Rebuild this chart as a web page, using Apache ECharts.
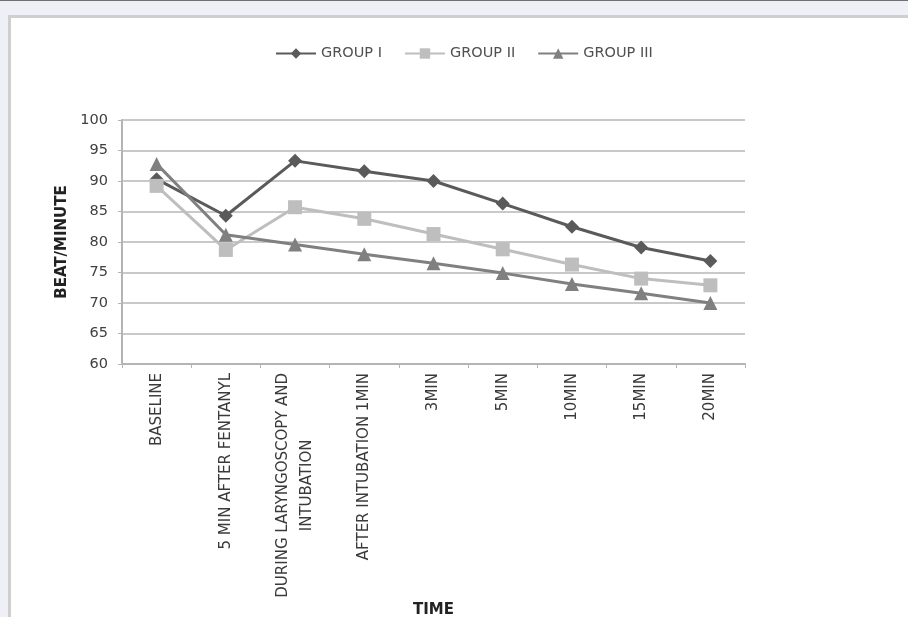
<!DOCTYPE html>
<html>
<head>
<meta charset="utf-8">
<script src="https://cdn.jsdelivr.net/npm/echarts@6/dist/echarts.min.js"></script>
<style>
  html, body { margin: 0; padding: 0; width: 908px; height: 617px; overflow: hidden; background: #eff0f5; }
  #topline { position: absolute; left: 0; top: 0; width: 908px; height: 1px; background: #707070; }
  #panel { position: absolute; left: 8px; top: 15px; width: 960px; height: 700px; background: #fff;
           border-left: 3px solid #cfcfcf; border-top: 3px solid #cfcfcf; box-sizing: border-box; }
  #chart { position: absolute; left: 0; top: 0; width: 908px; height: 617px; }
</style>
</head>
<body>
<div id="topline"></div>
<div id="panel"></div>
<div id="chart"></div>
<script>
// Heart rate (beats per minute) at each time point, per group
const timePoints = [
  'BASELINE',
  '5 MIN AFTER FENTANYL',
  'DURING LARYNGOSCOPY AND\nINTUBATION',
  'AFTER INTUBATION 1MIN',
  '3MIN',
  '5MIN',
  '10MIN',
  '15MIN',
  '20MIN'
];
const groupI   = [90.3, 84.3, 93.3, 91.6, 90.0, 86.3, 82.5, 79.1, 76.9];
const groupII  = [89.2, 78.7, 85.7, 83.8, 81.3, 78.8, 76.3, 74.0, 72.9];
const groupIII = [92.8, 81.2, 79.6, 78.0, 76.5, 74.9, 73.1, 71.6, 70.0];
const yTicks = { min: 60, max: 100, step: 5 };

const FONT = '"DejaVu Sans", sans-serif';

function lineSeries(name, data, color, symbol, size) {
  return {
    name: name,
    type: 'line',
    data: data,
    symbol: symbol,
    symbolSize: size,
    lineStyle: { color: color, width: 3 },
    itemStyle: { color: color },
    emphasis: { disabled: true },
    animation: false
  };
}

const chart = echarts.init(document.getElementById('chart'), null, { renderer: 'canvas' });
chart.setOption({
  backgroundColor: 'transparent',
  textStyle: { fontFamily: FONT },
  legend: {
    left: 270,
    top: 41,
    itemWidth: 40,
    itemHeight: 13,
    itemGap: 22,
    textStyle: { fontFamily: FONT, fontSize: 14.5, color: '#505050' },
    data: ['GROUP I', 'GROUP II', 'GROUP III']
  },
  grid: { left: 122, right: 163, top: 120, bottom: 253, outerBoundsMode: 'none', containLabel: false },
  xAxis: {
    type: 'category',
    data: timePoints,
    boundaryGap: true,
    name: 'TIME',
    nameLocation: 'middle',
    nameGap: 239,
    nameTextStyle: { fontFamily: FONT, fontSize: 15, fontWeight: 'bold', color: '#222' },
    axisLine: { lineStyle: { color: '#b4b4b4', width: 2 } },
    axisTick: { show: true, length: 4, lineStyle: { color: '#b4b4b4', width: 1 } },
    axisLabel: {
      rotate: 90,
      margin: 9,
      interval: 0,
      color: '#3a3a3a',
      fontFamily: FONT,
      fontSize: 15,
      lineHeight: 24,
      formatter: function (v) {
        return v.split('\n').map(function (s) { return '{c|' + s + '}'; }).join('\n');
      },
      rich: { c: { align: 'center', fontFamily: FONT, fontSize: 15, color: '#3a3a3a', lineHeight: 24 } }
    }
  },
  yAxis: {
    type: 'value',
    min: yTicks.min,
    max: yTicks.max,
    interval: yTicks.step,
    name: 'BEAT/MINUTE',
    nameLocation: 'middle',
    nameRotate: 90,
    nameGap: 52,
    nameTextStyle: { fontFamily: FONT, fontSize: 15, fontWeight: 'bold', color: '#222' },
    axisLine: { show: true, lineStyle: { color: '#b4b4b4', width: 2 } },
    axisTick: { show: true, length: 4, lineStyle: { color: '#b4b4b4' } },
    axisLabel: { margin: 14, color: '#404040', fontFamily: FONT, fontSize: 14.5 },
    splitLine: { show: true, lineStyle: { color: '#c9c9c9', width: 2 } }
  },
  series: [
    lineSeries('GROUP I', groupI, '#5a5a5a', 'diamond', 14),
    lineSeries('GROUP II', groupII, '#bebebe', 'rect', 14),
    lineSeries('GROUP III', groupIII, '#808080', 'triangle', 14)
  ]
});
</script>
</body>
</html>
